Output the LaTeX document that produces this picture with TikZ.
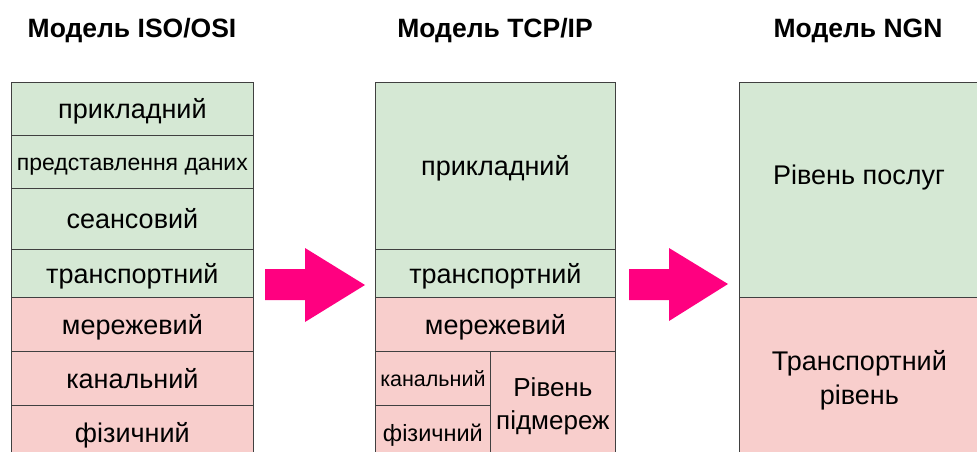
\documentclass[tikz,border=0pt]{standalone}
\usepackage{fontspec}
\setmainfont{Liberation Sans}
\definecolor{layergreen}{HTML}{D5E8D4}
\definecolor{layerred}{HTML}{F8CECC}
\definecolor{arrowpink}{HTML}{FF0080}
\newcommand{\linestrut}{\rule[-0.21em]{0pt}{1.16em}}
\begin{document}
\begin{tikzpicture}[x=1pt, y=-1pt,
    cell/.style={draw=black!75, line width=0.8pt, inner sep=0pt, anchor=north west, align=center,
        font=\fontsize{27}{34}\selectfont,
        execute at begin node=\linestrut, execute at end node=\linestrut},
    upper/.style={cell, fill=layergreen},
    lower/.style={cell, fill=layerred},
    size/.style 2 args={minimum width=#1pt, minimum height=#2pt},
    title/.style={font=\bfseries\fontsize{26.5}{30}\selectfont, execute at begin node=\linestrut},
    small/.style={font=\fontsize{#1}{#1}\selectfont}]
    \useasboundingbox (0,0) rectangle (977,452);

    % ISO/OSI
    \node[title] (osi) at (132,27.5) {Модель ISO/OSI};
    \node[upper, size={242}{53}] (osi7) at (11,82) {прикладний};
    \node[upper, size={242}{53}, small=23] (osi6) at (11,135) {представлення даних};
    \node[upper, size={242}{61}] (osi5) at (11,188) {сеансовий};
    \node[upper, size={242}{48}] (osi4) at (11,249) {транспортний};
    \node[lower, size={242}{54}] (osi3) at (11,297) {мережевий};
    \node[lower, size={242}{54}] (osi2) at (11,351) {канальний};
    \node[lower, size={242}{54}] (osi1) at (11,405) {фізичний};

    % TCP/IP
    \node[title] (tcp) at (495,27.5) {Модель TCP/IP};
    \node[upper, size={240}{167}] (tcp4) at (375,82) {прикладний};
    \node[upper, size={240}{48}] (tcp3) at (375,249) {транспортний};
    \node[lower, size={240}{54}] (tcp2) at (375,297) {мережевий};
    \node[lower, size={115}{54}, small=21.5] (tcpch) at (375,351) {канальний};
    \node[lower, size={115}{54}, small=23.5] (tcpph) at (375,405) {фізичний};
    \node[lower, size={125}{110}, font=\fontsize{26}{33}\selectfont] (tcp1) at (490,351) {Рівень\\підмереж};

    % NGN
    \node[title] (ngn) at (858,27.5) {Модель NGN};
    \node[upper, size={240}{215}] (ngn2) at (739,82) {};
    \node[cell, draw=none, anchor=center] (ngn2text) at (859,174.5) {Рівень послуг};
    \node[lower, size={240}{166}] (ngn1) at (739,297) {Транспортний\\рівень};

    % arrows between models
    \fill[arrowpink] (265,269) -- (305,269) -- (305,248) -- (365,285)
        -- (305,322) -- (305,300) -- (265,300) -- cycle;
    \fill[arrowpink] (629,269) -- (669,269) -- (669,248) -- (728,284)
        -- (669,321) -- (669,300) -- (629,300) -- cycle;
\end{tikzpicture}
\end{document}
